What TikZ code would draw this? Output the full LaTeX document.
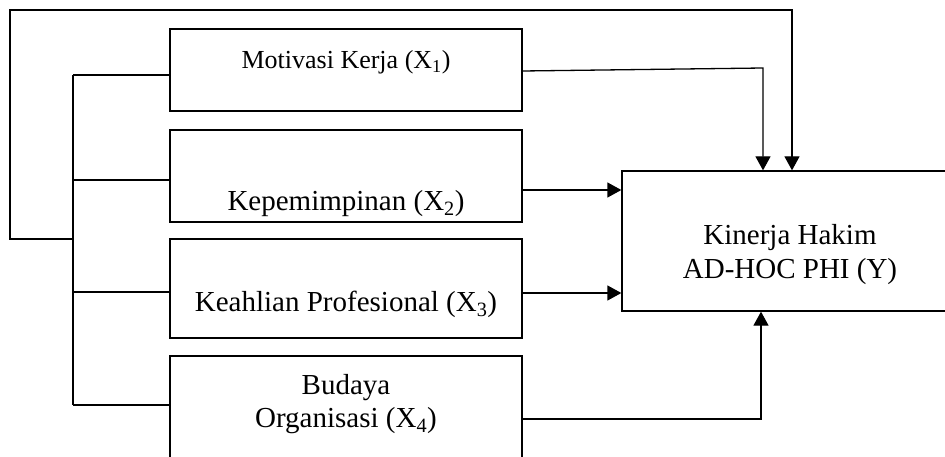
\documentclass[tikz,border=0pt]{standalone}
\usepackage{fontspec}
\setmainfont{Liberation Serif}
\usetikzlibrary{arrows.meta}
\tikzset{
  var/.style={draw,minimum width=352pt,inner sep=0pt},
  txt/.style={font=\fontsize{29}{33.5}\selectfont,align=center,inner sep=0pt},
}
\begin{document}
\begin{tikzpicture}[x=1pt,y=-1pt,line width=1.3pt,>={Triangle[length=14pt,width=15pt]}]
\useasboundingbox (0,0) rectangle (945,457);
\node[var,minimum height=82pt,label={[txt,font=\fontsize{26}{30}\selectfont,yshift=7.5pt]center:Motivasi Kerja (X\textsubscript{1})}] (X1) at (346,70) {};
\node[var,minimum height=92pt,label={[txt,yshift=-27.5pt]center:Kepemimpinan (X\textsubscript{2})}] (X2) at (346,176) {};
\node[var,minimum height=99pt,label={[txt,yshift=-16pt]center:Keahlian Profesional (X\textsubscript{3})}] (X3) at (346,288.5) {};
\node[var,minimum height=110pt,label={[txt,yshift=7pt]center:Budaya\\Organisasi (X\textsubscript{4})}] (X4) at (346,411) {};
\node[var,minimum width=336pt,minimum height=140pt,label={[txt,yshift=-13.5pt]center:Kinerja Hakim\\AD-HOC PHI (Y)}] (Y) at (790,241) {};
% left bus
\coordinate (B1) at (73,75);
\coordinate (B2) at (73,180);
\coordinate (B3) at (73,292);
\coordinate (B4) at (73,405);
\draw (B1) -- (B4);
\foreach \i in {1,...,4}
  \draw (B\i) -- (B\i -| X\i.west);
% outer loop
\coordinate (L) at (73,239);
\coordinate (C) at (10,10);
\coordinate (T) at (792,10);
\draw[->] (L) -| (C) -- (T) -- (T |- Y.north);
% arrows to Y
\coordinate (A) at (763,68);
\draw[->] ([yshift=-1pt]X1.east) -- (A) -- (A |- Y.north);
\draw[->] ([yshift=-14pt]X2.east) -- ([yshift=-14pt]X2.east -| Y.west);
\draw[->] ([yshift=-4.5pt]X3.east) -- ([yshift=-4.5pt]X3.east -| Y.west);
\coordinate (D) at (761,419);
\draw[->] (X4.east |- D) -- (D) -- (D |- Y.south);
\end{tikzpicture}
\end{document}
